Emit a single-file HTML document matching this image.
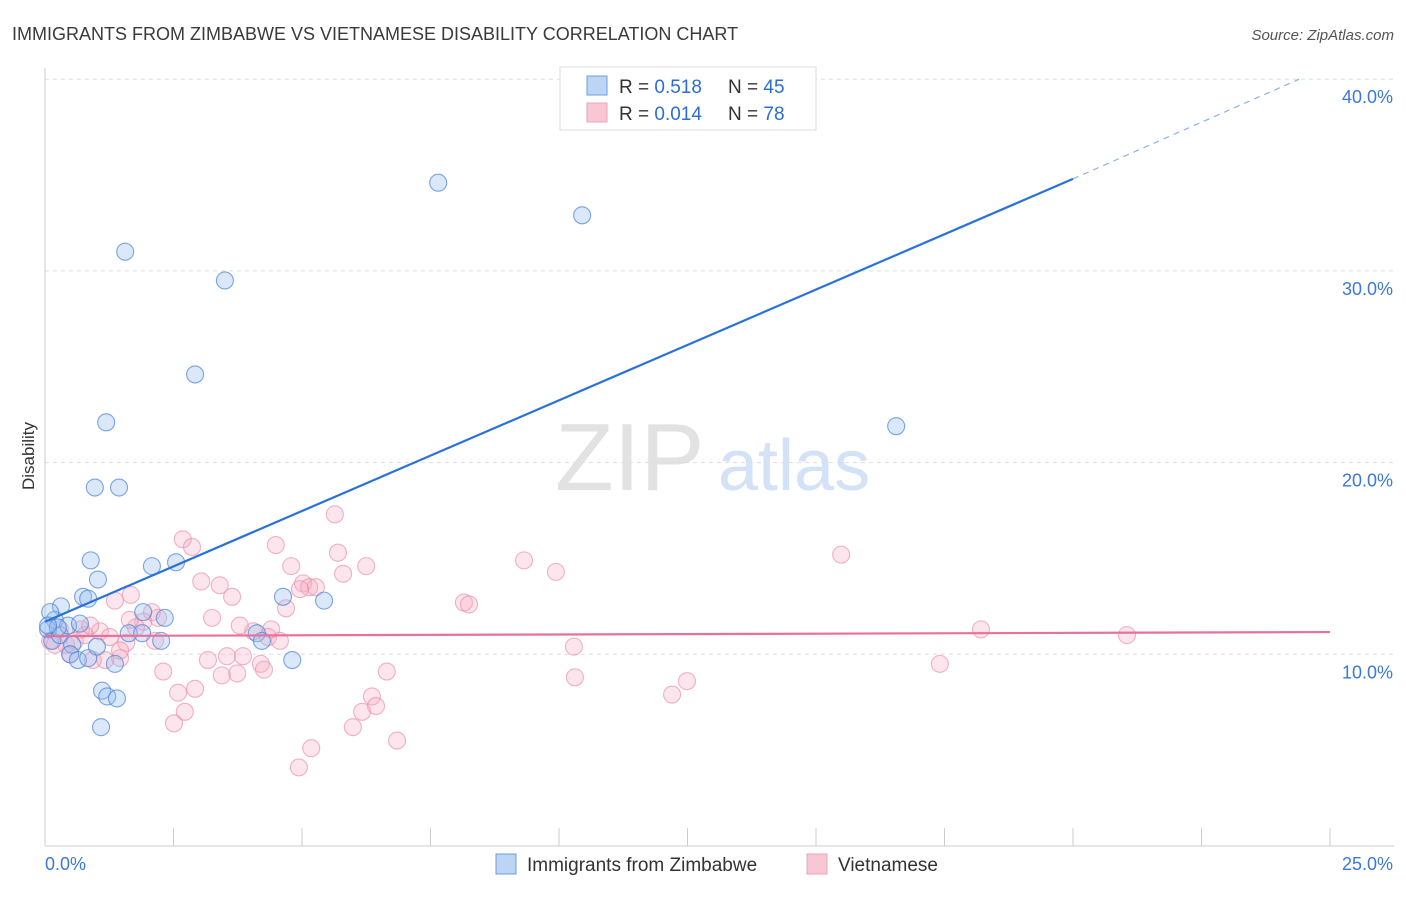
<!DOCTYPE html>
<html><head><meta charset="utf-8"><style>
body{margin:0;background:#fff;font-family:"Liberation Sans",sans-serif;}
svg text{font-family:"Liberation Sans",sans-serif;}
</style></head><body>
<svg id="chart" width="1406" height="892" viewBox="0 0 1406 892">
<text x="12" y="40" font-size="18" fill="#3a3a3a">IMMIGRANTS FROM ZIMBABWE VS VIETNAMESE DISABILITY CORRELATION CHART</text>
<text x="1394" y="40" font-size="15" fill="#555" text-anchor="end" font-style="italic">Source: ZipAtlas.com</text>
<text x="34" y="456" font-size="17" fill="#333" text-anchor="middle" transform="rotate(-90 34 456)">Disability</text>
<g><text x="555" y="490" font-size="96" fill="#e2e2e2" font-family="Liberation Serif">ZIP</text><text x="718" y="490" font-size="72" fill="#d3e2f6">atlas</text></g>
<g id="grid"></g><g id="axes"></g><g id="marks"></g>
<g>
<rect x="560" y="67" width="256" height="63" fill="#fff" stroke="#ddd"/>
<rect x="587" y="76" width="20" height="19" fill="#bcd5f5" stroke="#6c9ee0"/>
<rect x="587" y="103" width="20" height="19" fill="#f9c6d3" stroke="#eba3b8"/>
<text x="619" y="93" font-size="19" fill="#333">R = <tspan fill="#2a6dd6">0.518</tspan></text>
<text x="728" y="93" font-size="19" fill="#333">N = <tspan fill="#2a6dd6">45</tspan></text>
<text x="619" y="120" font-size="19" fill="#333">R = <tspan fill="#2a6dd6">0.014</tspan></text>
<text x="728" y="120" font-size="19" fill="#333">N = <tspan fill="#2a6dd6">78</tspan></text>
</g>
<g>
<rect x="496" y="854" width="20" height="20" fill="#bcd5f5" stroke="#6c9ee0"/>
<text x="527" y="871" font-size="19" fill="#333">Immigrants from Zimbabwe</text>
<rect x="807" y="854" width="20" height="20" fill="#f9c6d3" stroke="#eba3b8"/>
<text x="838" y="871" font-size="19" fill="#333">Vietnamese</text>
</g>
</svg>
<script>
const xTicks=[0,2.5,5,7.5,10,12.5,15,17.5,20,22.5,25];
const yTicks=[10,20,30,40];
const yTickLabels=["10.0%","20.0%","30.0%","40.0%"];
const xEndLabels=["0.0%","25.0%"];
const blueX=[1.56,3.5,7.65,10.45,2.92,1.19,0.97,1.44,16.56,0.89,2.08,2.55,1.03,0.74,0.84,0.31,1.91,2.33,1.63,1.89,2.26,0.19,0.1,0.06,0.14,0.29,0.45,0.53,0.49,0.64,0.84,1.01,1.36,1.11,1.21,1.4,1.09,4.63,5.43,4.12,4.22,4.81,0.68,0.25,0.06];
const blueY=[31.0,29.5,34.6,32.9,24.6,22.1,18.7,18.7,21.9,14.9,14.6,14.8,13.9,13.0,12.9,12.5,12.2,11.9,11.1,11.1,10.7,11.8,12.2,11.3,10.7,11.0,11.5,10.5,10.0,9.7,9.8,10.4,9.5,8.1,7.8,7.7,6.2,13.0,12.8,11.1,10.7,9.7,11.6,11.4,11.5];
const pinkX=[2.68,2.86,5.64,4.49,5.7,9.32,9.94,15.49,4.79,5.8,6.25,3.04,3.4,3.64,5.02,5.14,5.27,1.67,1.36,4.69,3.25,8.15,8.25,2.08,2.2,1.91,0.7,1.07,1.26,1.58,1.77,4.4,4.34,4.05,18.21,21.05,10.29,3.17,3.54,3.85,4.2,4.26,3.74,3.44,2.3,6.65,1.46,1.17,0.93,0.49,0.41,17.41,10.31,12.49,12.2,2.59,2.92,6.36,6.44,6.17,2.72,2.51,5.99,6.85,5.18,4.94,0.1,0.19,0.29,0.58,0.78,1.46,1.65,3.79,4.57,4.96,2.14,0.88];
const pinkY=[16.0,15.6,17.3,15.7,15.3,14.9,14.3,15.2,14.6,14.2,14.6,13.8,13.6,13.0,13.7,13.5,13.5,13.1,12.8,12.4,11.9,12.7,12.6,12.2,11.9,11.7,11.3,11.2,10.9,10.6,11.4,11.3,10.9,11.2,11.3,11.0,10.4,9.7,9.9,9.9,9.5,9.2,9.0,8.9,9.1,9.1,9.8,9.7,9.7,10.0,10.5,9.5,8.8,8.6,7.9,8.0,8.2,7.8,7.3,7.0,7.0,6.4,6.2,5.5,5.1,4.1,10.7,10.5,11.3,10.7,11.0,10.2,11.8,11.5,10.7,13.4,10.7,11.5];
const blueTrendX=[0,20,24.4];
const blueTrendY=[11.7,34.8,40.0];
const pinkTrendX=[0,25];
const pinkTrendY=[10.95,11.16];
const NS="http://www.w3.org/2000/svg";
const sx=v=>45+v*51.4;
const sy=v=>846-v*19.17;
function mk(tag,attrs,parent){const e=document.createElementNS(NS,tag);for(const k in attrs)e.setAttribute(k,attrs[k]);parent.appendChild(e);return e;}
const grid=document.getElementById('grid'),axes=document.getElementById('axes'),marks=document.getElementById('marks');
yTicks.forEach((t,i)=>{
 const l=mk('line',{x1:45,x2:1394,y1:sy(t),y2:sy(t),stroke:'#ddd','stroke-dasharray':'4,4'},grid);
 
 
 const tx=mk('text',{x:1393,y:sy(t)+24,'font-size':18,fill:'#3b78d8','text-anchor':'end'},axes);
 tx.textContent=yTickLabels[i];
 
 
});
const ax=mk('line',{x1:45,x2:1394,y1:846,y2:846,stroke:'#ccc'},axes);


const ay=mk('line',{x1:45,x2:45,y1:68,y2:846,stroke:'#ccc'},axes);


xTicks.forEach(t=>{
 const l=mk('line',{x1:sx(t),x2:sx(t),y1:828,y2:846,stroke:'#ccc'},axes);
 
 
});
const xl0=mk('text',{x:45,y:870,'font-size':18,fill:'#3b78d8'},axes);xl0.textContent=xEndLabels[0];


const xl1=mk('text',{x:1393,y:870,'font-size':18,fill:'#3b78d8','text-anchor':'end'},axes);xl1.textContent=xEndLabels[1];


pinkX.forEach((v,i)=>{
 const c=mk('circle',{cx:sx(v),cy:sy(pinkY[i]),r:8.5,fill:'rgba(245,170,192,0.3)',stroke:'rgba(232,140,168,0.65)','stroke-width':1.1},marks);
 
 
});
blueX.forEach((v,i)=>{
 const c=mk('circle',{cx:sx(v),cy:sy(blueY[i]),r:8.5,fill:'rgba(150,188,240,0.35)',stroke:'rgba(70,130,215,0.7)','stroke-width':1.1},marks);
 
 
});
const bt=mk('line',{x1:sx(blueTrendX[0]),y1:sy(blueTrendY[0]),x2:sx(blueTrendX[1]),y2:sy(blueTrendY[1]),stroke:'#2a72d8','stroke-width':2.2},marks);


const bd=mk('line',{x1:sx(blueTrendX[1]),y1:sy(blueTrendY[1]),x2:sx(blueTrendX[2]),y2:sy(blueTrendY[2]),stroke:'#8fb3e6','stroke-width':1.2,'stroke-dasharray':'6,5'},marks);


const pt=mk('line',{x1:sx(pinkTrendX[0]),y1:sy(pinkTrendY[0]),x2:sx(pinkTrendX[1]),y2:sy(pinkTrendY[1]),stroke:'#e8709a','stroke-width':2.2},marks);


</script>
</body></html>
